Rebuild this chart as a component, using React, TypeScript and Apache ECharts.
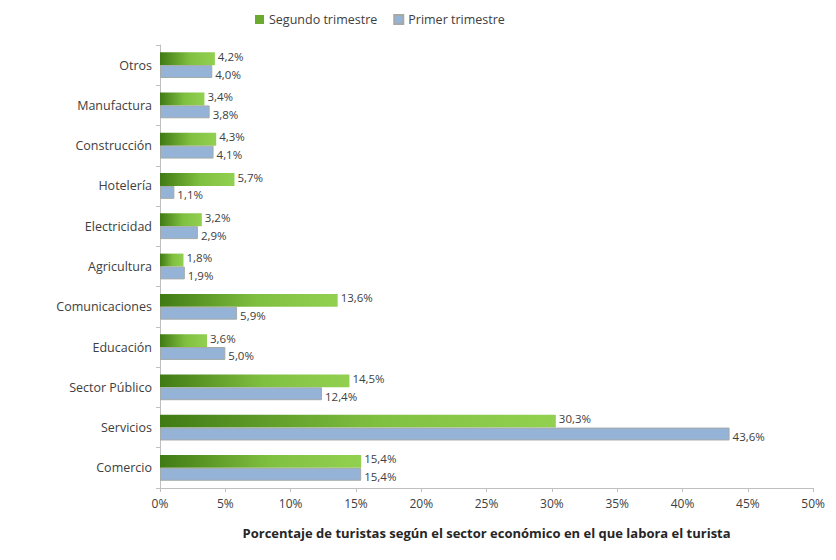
import React, { useEffect, useRef } from "react";
import * as echarts from "echarts";

const categories = [
  "Comercio",
  "Servicios",
  "Sector Público",
  "Educación",
  "Comunicaciones",
  "Agricultura",
  "Electricidad",
  "Hotelería",
  "Construcción",
  "Manufactura",
  "Otros",
];
const segundoTrimestre = [15.4, 30.3, 14.5, 3.6, 13.6, 1.8, 3.2, 5.7, 4.3, 3.4, 4.2];
const primerTrimestre = [15.4, 43.6, 12.4, 5.0, 5.9, 1.9, 2.9, 1.1, 4.1, 3.8, 4.0];
const xTicks = { min: 0, max: 50, interval: 5 };
const axisTitle = "Porcentaje de turistas según el sector económico en el que labora el turista";

const fmt = (v: number) => v.toFixed(1).replace(".", ",") + "%";
const FONT = "'Open Sans', sans-serif";

export default function App() {
  const ref = useRef<HTMLDivElement>(null);
  useEffect(() => {
    if (!ref.current) return;
    const chart = echarts.init(ref.current, undefined, { renderer: "svg" });
    const green = new echarts.graphic.LinearGradient(0, 0, 1, 0, [
      { offset: 0, color: "#3f7a14" },
      { offset: 0.55, color: "#80c040" },
      { offset: 1, color: "#92d050" },
    ]);
    const labelStyle = {
      show: true,
      position: "right" as const,
      distance: 3,
      color: "#404040",
      fontFamily: FONT,
      fontSize: 11.5,
      lineHeight: 12,
      formatter: (p: any) => fmt(p.value),
    };
    chart.setOption({
      animation: false,
      backgroundColor: "#ffffff",
      textStyle: { fontFamily: FONT },
      legend: {
        top: 0,
        left: 242,
        itemWidth: 9,
        itemHeight: 9,
        itemGap: 16,
        icon: "rect",
        textStyle: { color: "#404040", fontSize: 12.5, fontFamily: FONT },
        data: [
          { name: "Segundo trimestre", itemStyle: { color: "#6aaa2e" } },
          { name: "Primer trimestre", itemStyle: { color: "#95b3d7" } },
        ],
      },
      grid: { left: 152, right: 10, top: 37, bottom: 64 },
      xAxis: {
        type: "value",
        min: xTicks.min,
        max: xTicks.max,
        interval: xTicks.interval,
        axisLine: { show: true, lineStyle: { color: "#bfbfbf" } },
        axisTick: { show: true, length: 4, lineStyle: { color: "#bfbfbf" } },
        splitLine: { show: false },
        axisLabel: {
          formatter: "{value}%",
          color: "#404040",
          fontSize: 12,
          fontFamily: FONT,
          margin: 9,
        },
        name: axisTitle,
        nameLocation: "middle",
        nameGap: 38,
        nameTextStyle: {
          fontWeight: "bold",
          color: "#262626",
          fontSize: 13,
          fontFamily: FONT,
        },
      },
      yAxis: {
        type: "category",
        data: categories,
        axisLine: { show: true, lineStyle: { color: "#bfbfbf" } },
        axisTick: { show: true, length: 4, lineStyle: { color: "#bfbfbf" } },
        axisLabel: { color: "#404040", fontSize: 12.5, fontFamily: FONT, margin: 8 },
      },
      series: [
        {
          name: "Segundo trimestre",
          type: "bar",
          data: segundoTrimestre,
          barGap: "0%",
          barCategoryGap: "36%",
          itemStyle: { color: green },
          label: { ...labelStyle, offset: [0, -2.5] },
        },
        {
          name: "Primer trimestre",
          type: "bar",
          data: primerTrimestre,
          barGap: "0%",
          barCategoryGap: "36%",
          itemStyle: { color: "#95b3d7", borderColor: "#a3aaa8", borderWidth: 1 },
          label: { ...labelStyle, offset: [0, 2.5] },
        },
      ],
    });
    return () => chart.dispose();
  }, []);
  return <div ref={ref} style={{ width: 820, height: 544 }} />;
}
